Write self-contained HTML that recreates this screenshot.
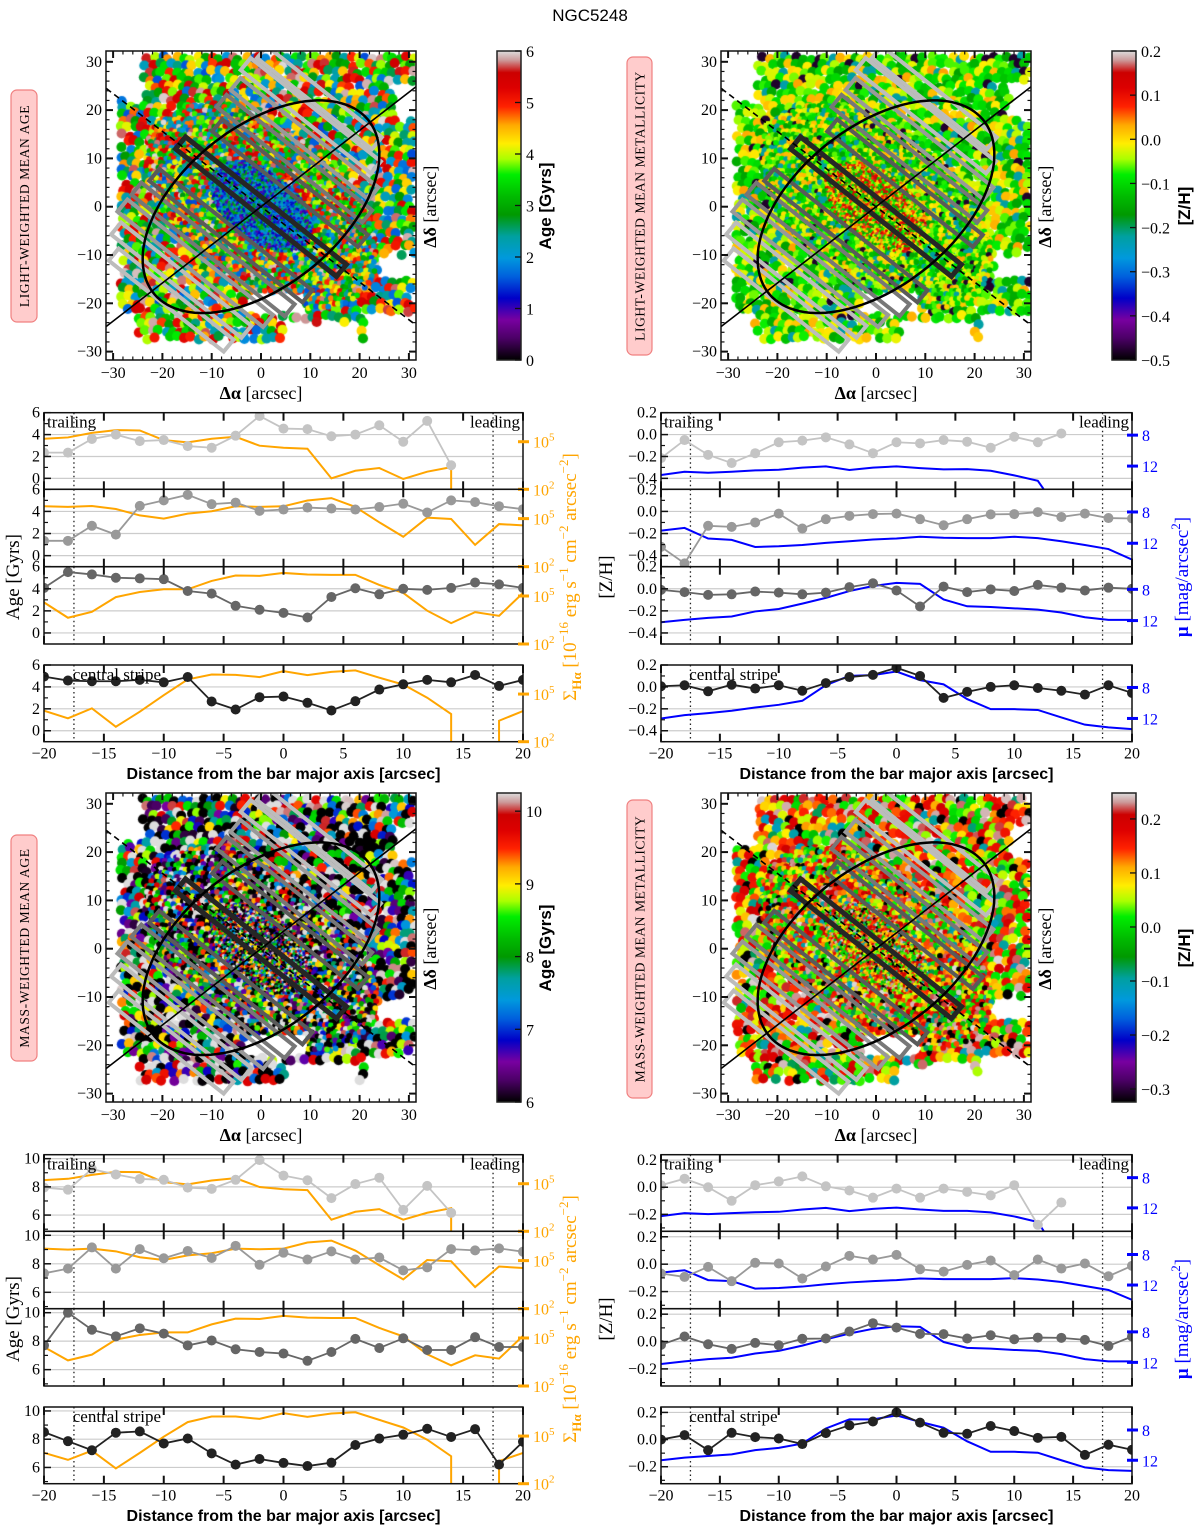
<!DOCTYPE html>
<html><head><meta charset="utf-8">
<style>
html,body{margin:0;padding:0;background:#fff;}
#wrap{position:relative;width:1200px;height:1531px;overflow:hidden;background:#fff;}
canvas{position:absolute;}
svg{position:absolute;left:0;top:0;}
</style></head>
<body>
<div id="wrap">
<canvas id="m0" width="310" height="309" style="left:106px;top:51px"></canvas>
<canvas id="m1" width="310" height="309" style="left:721px;top:51px"></canvas>
<canvas id="m2" width="310" height="309" style="left:106px;top:793px"></canvas>
<canvas id="m3" width="310" height="309" style="left:721px;top:793px"></canvas>
<svg id="fig" width="1200" height="1531" xmlns="http://www.w3.org/2000/svg">
<defs>
<linearGradient id="cmap" x1="0" y1="1" x2="0" y2="0">
<stop offset="0" stop-color="#000000"/><stop offset="0.07" stop-color="#4b0066"/><stop offset="0.13" stop-color="#7800a0"/>
<stop offset="0.2" stop-color="#0000c8"/><stop offset="0.27" stop-color="#0060dd"/><stop offset="0.33" stop-color="#0099dd"/>
<stop offset="0.4" stop-color="#00a0a0"/><stop offset="0.47" stop-color="#009900"/><stop offset="0.53" stop-color="#00bb00"/>
<stop offset="0.6" stop-color="#00ee00"/><stop offset="0.65" stop-color="#aaff00"/><stop offset="0.7" stop-color="#ffee00"/>
<stop offset="0.76" stop-color="#ffaa00"/><stop offset="0.82" stop-color="#ff2200"/><stop offset="0.88" stop-color="#dd0000"/>
<stop offset="0.93" stop-color="#cc0000"/><stop offset="0.97" stop-color="#cc9999"/><stop offset="1" stop-color="#dddddd"/>
</linearGradient>
</defs>
<text x="590" y="21" font-family="Liberation Sans, sans-serif" font-size="17" text-anchor="middle">NGC5248</text>
</svg>
</div>
<script>
// ---------------- profile data ----------------
const X = [-20,-18,-16,-14,-12,-10,-8,-6,-4,-2,0,2,4,6,8,10,12,14,16,18,20];
const X14 = [-20,-18,-16,-14,-12,-10,-8,-6,-4,-2,0,2,4,6,8,10,12,14];
const XHA1 = [-20,-18,-16,-14,-12,-10,-8,-6,-4,-2,0,2,4,6,8,10,12,14,14];
const XHA4 = [-20,-18,-16,-14,-12,-10,-8,-6,-4,-2,0,2,4,6,8,10,12,14,14,16,18,18,20];
const XMU1 = [-20,-18,-16,-14,-12,-10,-8,-6,-4,-2,0,2,4,6,8,10,12,12.6];

const ageL1 = [2.35,2.35,3.6,4.0,3.4,3.5,2.95,2.8,3.9,5.7,4.55,4.5,3.85,4.0,4.85,3.35,5.25,1.2];
const haL1 = [5.19,5.27,5.56,5.73,5.71,5.10,4.96,5.19,5.31,4.75,4.62,4.56,2.69,3.17,3.34,2.65,3.11,3.40,2];
const ageL2 = [1.34,1.34,2.7,1.9,4.5,5.0,5.5,4.66,4.8,4.05,4.17,4.35,4.26,4.17,4.4,4.7,3.9,5.0,4.84,4.47,4.2];
const haL2 = [5.77,5.73,5.79,5.6,5.2,5.0,5.31,5.46,5.77,5.73,5.77,6.13,6.28,5.73,4.77,3.87,5.06,4.98,3.36,4.66,4.58];
const ageL3 = [4.08,5.51,5.3,5.0,4.94,4.87,3.8,3.56,2.46,2.1,1.82,1.4,3.26,4.05,3.5,4.0,3.9,4.08,4.57,4.4,4.08];
const haL3 = [4.6,3.64,4.01,4.93,5.25,5.42,5.42,5.94,6.28,6.26,6.44,6.34,6.32,6.32,5.69,5.19,4.08,3.30,3.99,3.76,5.19];
const ageL4 = [4.94,4.58,4.52,4.52,4.64,4.42,4.9,2.67,1.94,3.06,3.12,2.55,1.85,2.7,3.76,4.24,4.64,4.42,5.09,4.09,4.64];
const haL4 = [3.95,3.47,4.1,2.94,3.89,4.93,5.92,6.23,6.21,6.07,6.44,6.19,6.4,6.49,6.03,5.6,4.77,3.74,2,null,2,3.32,3.93];

const zL1 = [-0.215,-0.05,-0.185,-0.26,-0.17,-0.07,-0.055,-0.025,-0.09,-0.17,-0.07,-0.08,-0.05,-0.065,-0.12,-0.02,-0.07,0.01];
const muL1 = [13.16,12.73,12.86,12.73,12.56,12.47,12.2,12.04,12.5,12.2,12.04,12.26,12.43,12.39,12.6,13.2,13.9,15.2];
const zL2 = [-0.32,-0.47,-0.13,-0.14,-0.1,-0.02,-0.155,-0.07,-0.04,-0.024,-0.02,-0.07,-0.125,-0.07,-0.027,-0.024,-0.006,-0.05,-0.02,-0.06,-0.064];
const muL2 = [10.39,10.04,11.39,11.57,12.48,12.39,12.22,11.96,11.74,11.52,11.39,11.17,11.3,11.35,11.35,11.17,11.35,11.74,12.22,12.74,14.09];
const zL3 = [-0.01,-0.03,-0.055,-0.05,-0.025,-0.035,-0.05,-0.035,0.015,0.05,-0.015,-0.16,0.02,-0.03,-0.005,-0.02,0.035,0.01,-0.015,0.01,0.0];
const muL3 = [12.22,11.91,11.65,11.48,10.83,10.52,9.83,9.09,8.22,7.57,7.17,7.3,9.3,10.17,10.26,10.43,10.6,10.96,11.57,11.91,11.91];
const zL4 = [0.006,0.015,-0.04,0.02,-0.015,0.015,-0.035,0.035,0.09,0.11,0.175,0.1,-0.1,-0.045,0.0,0.015,-0.01,-0.035,-0.07,0.015,-0.055];
const muL4 = [12.0,11.57,11.31,11.0,10.58,10.24,9.72,7.7,6.5,6.4,5.94,7.05,7.6,9.5,10.8,10.8,10.9,11.87,12.8,13.15,13.37];

const ageM1 = [7.95,7.8,9.26,8.88,8.56,8.5,7.95,7.86,8.5,9.9,8.8,8.47,7.2,8.2,8.65,6.37,8.07,6.16];
const haM1 = [5.23,5.31,5.56,5.75,5.73,5.1,4.96,5.2,5.35,4.79,4.65,4.6,2.73,3.23,3.4,2.73,3.17,3.46,2];
const ageM2 = [7.33,7.66,9.15,7.66,9.03,8.39,8.9,8.41,9.26,7.93,8.78,8.3,8.87,8.3,8.44,7.54,7.75,9.03,8.94,9.08,8.85];
const haM2 = [5.75,5.69,5.75,5.58,5.21,5.04,5.33,5.46,5.75,5.71,5.75,6.13,6.25,5.63,4.71,3.83,5.04,4.96,3.35,4.63,4.54];
const ageM3 = [7.7,10.0,8.8,8.34,8.9,8.53,7.7,8.05,7.43,7.24,7.13,6.62,7.24,8.16,7.52,8.2,7.38,7.38,8.28,7.59,7.59];
const haM3 = [4.44,3.6,3.96,4.9,5.19,5.35,5.35,5.85,6.21,6.19,6.38,6.27,6.25,6.25,5.63,5.1,3.98,3.29,3.92,3.71,5.13];
const ageM4 = [8.5,7.86,7.22,8.46,8.55,7.7,8.05,7.0,6.2,6.6,6.32,6.1,6.34,7.59,8.05,8.32,8.74,8.16,8.71,6.2,7.82];
const haM4 = [3.94,3.5,4.08,2.96,3.94,4.96,5.88,6.23,6.23,6.08,6.44,6.21,6.42,6.5,6.02,5.54,4.77,3.73,2,null,2,3.42,3.94];

const zM1 = [0.015,0.063,0.0,-0.1,0.015,0.043,0.08,0.007,-0.024,-0.077,-0.01,-0.077,-0.01,-0.034,-0.06,0.015,-0.277,-0.113];
const muM1 = [13.09,12.7,12.83,12.7,12.57,12.52,12.22,12.0,12.43,12.13,11.96,12.22,12.39,12.39,12.6,13.13,13.87,15.3];
const zM2 = [-0.068,-0.093,-0.02,-0.124,0.01,0.005,-0.105,-0.017,0.061,0.034,0.068,-0.037,-0.054,-0.005,0.027,-0.08,0.034,-0.032,0.005,-0.088,-0.012];
const muM2 = [10.37,10.06,11.35,11.48,12.47,12.39,12.2,11.9,11.66,11.48,11.35,11.14,11.22,11.22,11.22,11.1,11.27,11.6,12.13,12.65,13.94];
const zM3 = [-0.024,0.037,-0.02,-0.054,-0.01,-0.027,0.02,0.022,0.073,0.134,0.102,0.056,0.054,0.022,0.046,0.017,0.029,0.027,0.012,-0.032,0.037];
const muM3 = [12.21,11.87,11.57,11.4,10.84,10.49,9.8,8.99,8.21,7.6,7.27,7.35,9.33,10.1,10.2,10.37,10.5,10.92,11.57,11.87,11.87];
const zM4 = [0.0,0.033,-0.078,0.05,0.018,0.008,-0.033,0.048,0.105,0.133,0.2,0.125,0.05,0.043,0.1,0.063,0.013,0.02,-0.113,-0.038,-0.075];
const muM4 = [12.0,11.66,11.44,11.22,10.66,10.37,9.8,7.8,6.6,6.6,6.07,6.93,7.7,9.5,10.88,10.88,11.0,12.0,12.95,13.3,13.4];

const PT_COLORS = ['#c4c4c4','#999999','#666666','#222222'];
const SERIF = "Liberation Serif, serif";
const SANS = "Liberation Sans, sans-serif";
const NS = 'http://www.w3.org/2000/svg';
const svg = document.getElementById('fig');

function el(tag, attrs, parent, text){
  const e = document.createElementNS(NS, tag);
  for (const k in attrs) e.setAttribute(k, attrs[k]);
  if (text !== undefined) e.textContent = text;
  (parent||svg).appendChild(e);
  return e;
}
function fmt(v, dec){ const s = v.toFixed(dec); return s.replace('-', '\u2212'); }
function pathFrom(xs, ys, fx, fy){
  let d = '', pen = false;
  for (let i=0;i<xs.length;i++){
    if (ys[i]===null || ys[i]===undefined){ pen=false; continue; }
    d += (pen?'L':'M') + fx(xs[i]).toFixed(2) + ' ' + fy(ys[i]).toFixed(2) + ' ';
    pen = true;
  }
  return d;
}
let clipId = 0;

function panel(o){
  const g = el('g', {});
  
  
  const {x0,x1,y0,y1} = o;
  const fx = v => x0 + (v+20)/40*(x1-x0);
  const fl = v => y1 - (v-o.lmin)/(o.lmax-o.lmin)*(y1-y0);
  const fr = v => y0 + (v-o.rTop)/(o.rBot-o.rTop)*(y1-y0);
  const cid = 'pc'+(clipId++);
  const cp = el('clipPath', {id:cid}, g);
  el('rect', {x:x0, y:y0, width:x1-x0, height:y1-y0}, cp);
  o.grid.forEach(v => { const gl = el('line', {x1:x0, x2:x1, y1:fl(v), y2:fl(v), stroke:'#cccccc', 'stroke-width':1.2}, g);
      });
  [-17.5, 17.5].forEach(v => { const dl = el('line', {x1:fx(v), x2:fx(v), y1:y0, y2:y1, stroke:'#222', 'stroke-width':1.3, 'stroke-dasharray':'1.5,3'}, g);
      });
  const rl = el('path', {d:pathFrom(o.rx, o.ry, fx, fr), fill:'none', stroke:o.rcolor, 'stroke-width':2, 'clip-path':'url(#'+cid+')'}, g);
   
  const ll = el('path', {d:pathFrom(o.lx, o.ly, fx, fl), fill:'none', stroke:o.pc, 'stroke-width':1.8, 'clip-path':'url(#'+cid+')'}, g);
   
  o.lx.forEach((xv,i) => {
    const c = el('circle', {cx:fx(xv), cy:fl(o.ly[i]), r:5, fill:o.pc, 'clip-path':'url(#'+cid+')'}, g);
     
  });
  const fr_ = el('rect', {x:x0, y:y0, width:x1-x0, height:y1-y0, fill:'none', stroke:'#111', 'stroke-width':1.5}, g);
   
  for (let v=-20; v<=20; v+=5){
    el('line', {x1:fx(v), x2:fx(v), y1:y0, y2:y0+8, stroke:'#111', 'stroke-width':2}, g);
    el('line', {x1:fx(v), x2:fx(v), y1:y1, y2:y1-8, stroke:'#111', 'stroke-width':2}, g);
    if (o.xlabels){
      const t = el('text', {x:fx(v), y:y1+17, 'font-family':SERIF, 'font-size':16, 'text-anchor':'middle'}, g, fmt(v,0));
       
    }
  }
  o.lticks.forEach(v => {
    el('line', {x1:x0, x2:x0+7, y1:fl(v), y2:fl(v), stroke:'#111', 'stroke-width':1.5}, g);
    const t = el('text', {x:x0-4, y:fl(v)+5, 'font-family':SERIF, 'font-size':16, 'text-anchor':'end'}, g, fmt(v,o.ldec));
     
  });
  o.lminor.forEach(v => { if (fl(v)>=y0-0.5 && fl(v)<=y1+0.5) el('line', {x1:x0, x2:x0+4, y1:fl(v), y2:fl(v), stroke:'#111', 'stroke-width':1.2}, g); });
  o.rticks.forEach(t => {
    el('line', {x1:x1-5, x2:x1+6, y1:fr(t.v), y2:fr(t.v), stroke:o.rcolor, 'stroke-width':3}, g);
    const tx = el('text', {x:x1+10, y:fr(t.v)+6, 'font-family':SERIF, 'font-size':16, fill:o.rcolor}, g);
     
    if (t.sup){ el('tspan', {}, tx, '10'); el('tspan', {dy:-7, 'font-size':11}, tx, t.sup); }
    else tx.textContent = t.label;
  });
  (o.texts||[]).forEach(t => {
    const tx = el('text', {x:t.x, y:y0+15, 'font-family':SERIF, 'font-size':17, 'text-anchor':t.anchor||'start'}, g, t.s);
     
  });
}

const TOP_Y = [[412.7,489.3],[489.3,566.7],[566.7,644],[665,741.7]];
const LX = [44,523], RX = [661,1132];
const ageLeft = [ageL1,ageL2,ageL3,ageL4], haLeft=[haL1,haL2,haL3,haL4];
const zLeft = [zL1,zL2,zL3,zL4], muLeft=[muL1,muL2,muL3,muL4];
const ageMass = [ageM1,ageM2,ageM3,ageM4], haMass=[haM1,haM2,haM3,haM4];
const zMass = [zM1,zM2,zM3,zM4], muMass=[muM1,muM2,muM3,muM4];
const haX = [XHA1, X, X, XHA4];
const ptX = [X14, X, X, X];
const muX = [XMU1, X, X, X];

function textsFor(i, x0, x1){
  const fx = v => x0 + (v+20)/40*(x1-x0);
  if (i===0) return [{x:x0+3,s:'trailing',name:'trailing-label'},{x:x1-3,s:'leading',anchor:'end',name:'leading-label'}];
  if (i===3) return [{x:fx(-17.6),s:'central stripe',name:'central-stripe-label'}];
  return [];
}

for (let half=0; half<2; half++){
  const dy = half*742;
  for (let i=0;i<4;i++){
    const [y0,y1] = TOP_Y[i];
    panel({name:(half?'mass':'light')+'-age-profile-'+(i+1), x0:LX[0], x1:LX[1], y0:y0+dy, y1:y1+dy,
      lmin: half?4.85:-1, lmax: half?10.28:6,
      lticks: half?[6,8,10]:[0,2,4,6], lminor: half?[5,7,9]:[1,3,5], ldec:0,
      grid: half?[6,8,10]:[0,2,4],
      rTop:6.83, rBot:2, rcolor:'#ffa500', rname:'halpha-line',
      rticks:[{v:2,sup:'2'},{v:5,sup:'5'}],
      rx: haX[i], ry: (half?haMass:haLeft)[i],
      lx: ptX[i], ly: (half?ageMass:ageLeft)[i], lname:'age', pc:PT_COLORS[i],
      xlabels: i===3, texts: textsFor(i, LX[0], LX[1])});
    panel({name:(half?'mass':'light')+'-metallicity-profile-'+(i+1), x0:RX[0], x1:RX[1], y0:y0+dy, y1:y1+dy,
      lmin: half?-0.325:-0.5, lmax: half?0.24:0.2,
      lticks: half?[-0.2,0,0.2]:[-0.4,-0.2,0,0.2], lminor: half?[-0.3,-0.1,0.1]:[-0.5,-0.3,-0.1,0.1], ldec:1,
      grid: half?[-0.2,0,0.2]:[-0.4,-0.2,0],
      rTop: half?4.96:5.1, rBot: half?15.1:15.0, rcolor:'#0000ff', rname:'surface-brightness-line',
      rticks:[{v:8,label:'8'},{v:12,label:'12'}],
      rx: muX[i], ry: (half?muMass:muLeft)[i],
      lx: ptX[i], ly: (half?zMass:zLeft)[i], lname:'metallicity', pc:PT_COLORS[i],
      xlabels: i===3, texts: textsFor(i, RX[0], RX[1])});
  }
  let t;
  t = el('text', {x:(LX[0]+LX[1])/2, y:779+dy, 'font-family':SANS, 'font-size':16, 'font-weight':'bold', 'text-anchor':'middle'}, svg, 'Distance from the bar major axis [arcsec]');
   
  t = el('text', {x:(RX[0]+RX[1])/2, y:779+dy, 'font-family':SANS, 'font-size':16, 'font-weight':'bold', 'text-anchor':'middle'}, svg, 'Distance from the bar major axis [arcsec]');
   
  t = el('text', {transform:'translate(19,'+(577+dy)+') rotate(-90)', 'font-family':SERIF, 'font-size':19, 'text-anchor':'middle'}, svg, 'Age [Gyrs]');
   
  t = el('text', {transform:'translate(612,'+(577+dy)+') rotate(-90)', 'font-family':SERIF, 'font-size':19, 'text-anchor':'middle'}, svg, '[Z/H]');
   
  t = el('text', {transform:'translate(576,'+(577+dy)+') rotate(-90)', 'font-family':SERIF, 'font-size':19, 'text-anchor':'middle', fill:'#ffa500'}, svg);
   
  el('tspan',{},t,'\u03a3');el('tspan',{dy:5,'font-size':13,'font-weight':'bold'},t,'H\u03b1');
  el('tspan',{dy:-5},t,' [10');el('tspan',{dy:-8,'font-size':13},t,'\u221216');el('tspan',{dy:8},t,' erg s');
  el('tspan',{dy:-8,'font-size':13},t,'\u22121');el('tspan',{dy:8},t,' cm');el('tspan',{dy:-8,'font-size':13},t,'\u22122');
  el('tspan',{dy:8},t,' arcsec');el('tspan',{dy:-8,'font-size':13},t,'\u22122');el('tspan',{dy:8},t,']');
  t = el('text', {transform:'translate(1188,'+(577+dy)+') rotate(-90)', 'font-family':SERIF, 'font-size':19, 'text-anchor':'middle', fill:'#0000ff'}, svg);
   
  el('tspan',{'font-weight':'bold'},t,'\u03bc');el('tspan',{},t,' [mag/arcsec');el('tspan',{dy:-8,'font-size':13},t,'2');el('tspan',{dy:8},t,']');
}

// ---------------- maps ----------------
const MAPS = [
  {fx:106, fy:51, cbx:497, cmin:0, cmax:6, ticks:[0,1,2,3,4,5,6], dec:0, cbl:'Age [Gyrs]', cbo:54, lab:'LIGHT-WEIGHTED MEAN AGE', box:[11,90,26,232], name:'light-age'},
  {fx:721, fy:51, cbx:1112, cmin:-0.5, cmax:0.2, ticks:[-0.5,-0.4,-0.3,-0.2,-0.1,0,0.1,0.2], dec:1, cbl:'[Z/H]', cbo:78, lab:'LIGHT-WEIGHTED MEAN METALLICITY', box:[627,57,25,298], name:'light-metallicity'},
  {fx:106, fy:793, cbx:497, cmin:6, cmax:10.25, ticks:[6,7,8,9,10], dec:0, cbl:'Age [Gyrs]', cbo:54, lab:'MASS-WEIGHTED MEAN AGE', box:[11,835,26,226], name:'mass-age'},
  {fx:721, fy:793, cbx:1112, cmin:-0.324, cmax:0.248, ticks:[-0.3,-0.2,-0.1,0,0.1,0.2], dec:1, cbl:'[Z/H]', cbo:78, lab:'MASS-WEIGHTED MEAN METALLICITY', box:[627,800,25,298], name:'mass-metallicity'}
];
const SX = 4.93, SY = 4.83, CXL = 155, CYL = 155.7;
const STOPS = [[0,'#000000'],[0.07,'#4b0066'],[0.13,'#7800a0'],[0.2,'#0000c8'],[0.27,'#0060dd'],[0.33,'#0099dd'],[0.4,'#00a0a0'],[0.47,'#009900'],[0.53,'#00bb00'],[0.6,'#00ee00'],[0.65,'#aaff00'],[0.7,'#ffee00'],[0.76,'#ffaa00'],[0.82,'#ff2200'],[0.88,'#dd0000'],[0.93,'#cc0000'],[0.97,'#cc9999'],[1,'#dddddd']];
function hex(h){return [parseInt(h.slice(1,3),16),parseInt(h.slice(3,5),16),parseInt(h.slice(5,7),16)];}
function cmap(v){
  v=Math.max(0,Math.min(1,v));
  for(let i=1;i<STOPS.length;i++){ if(v<=STOPS[i][0]){ const a=hex(STOPS[i-1][1]), b=hex(STOPS[i][1]); const t=(v-STOPS[i-1][0])/(STOPS[i][0]-STOPS[i-1][0]);
    return 'rgb('+[0,1,2].map(k=>Math.round(a[k]+(b[k]-a[k])*t)).join(',')+')'; } }
  return STOPS[STOPS.length-1][1];
}
// deterministic texture hash for the map image (not chart data)
function tex(i,j,k){
  let h = (Math.imul(i,374761393) + Math.imul(j,668265263) + Math.imul(k,2246822519)) | 0;
  h = Math.imul(h ^ (h>>>13), 1274126177);
  h ^= h>>>16;
  h = Math.imul(h ^ (h>>>15), 2246822507);
  h ^= h>>>13;
  return (h>>>0)/4294967296;
}
function masked(x,y){
  if (y<-27.5 || y>31.5 || x<-28.5 || x>31.3) return true;
  if (x<-24 && y>22) return true;
  if (y<-22 && (x>21 || x<-25)) return true;
  if (x>-3 && x<9 && y<-17.5 && y>-22.5) return true;
  if (x>24 && y<-10 && y>-15) return true;
  if (x>27 && y>18 && y<26) return true;
  if (y<-24 && x>5 && x<20) return true;
  return false;
}
const UX=0.777, UY=-0.629, NX=0.629, NY=0.777;
function colorVal(kind, h, rb){
  if (kind===0){ if (rb<7) return 0.12+0.4*h; return 0.25+0.75*h; }
  if (kind===1){ if (rb<7) return 0.45+0.5*h; if (h<0.04) return 0.03; if (h>0.9) return 0.3+h*0.1; return 0.47+0.33*h; }
  if (kind===2){ if (h<0.22) return 0; if (h>0.88) return 1; return (h-0.22)/0.66; }
  if (h<0.06) return 0; if (h<0.15) return 0.3+h; return 0.45+0.55*h;
}
MAPS.forEach((m,k) => {
  const ctx = document.getElementById('m'+k).getContext('2d');
  [[7,99],[4,16],[2.2,7]].forEach(([s,rmax],pass) => {
    let row=0;
    for (let py=-s; py<309+s; py+=s, row++){
      let col=0;
      for (let px=(row%2)*s/2 - s; px<310+s; px+=s, col++){
        const jx=(tex(col,row,k*11+pass+50)-0.5)*s*0.6, jy=(tex(col,row,k*11+pass+90)-0.5)*s*0.6;
        const cxp=px+jx, cyp=py+jy;
        const x=(cxp-CXL)/SX, y=(CYL-cyp)/SY;
        const along=x*UX+y*UY, perp=x*NX+y*NY;
        const rb=Math.sqrt((along/1.7)*(along/1.7)+perp*perp);
        if (rb>rmax || masked(x,y)) continue;
        const h=tex(col,row,k*7+pass);
        ctx.fillStyle=cmap(colorVal(k,h,rb));
        ctx.beginPath();
        ctx.arc(cxp,cyp,s*0.72,0,Math.PI*2);
        ctx.fill();
      }
    }
  });
  const g = el('g', {});
   
  const cid='mc'+k; const cp=el('clipPath',{id:cid},g);
  el('rect',{x:m.fx,y:m.fy,width:310,height:309},cp);
  const ox=m.fx+CXL, oy=m.fy+CYL;
  const P=(x,y)=>[ox+x*SX, oy-y*SY];
  const STRIPES=[[25,-5,30,'#bcbcbc'],[-26.5,-2,30,'#bcbcbc'],[21,-4,34,'#bcbcbc'],[-22,-3,34,'#bcbcbc'],[16.5,-2,36,'#999'],[-17.5,-3,38,'#999'],[12,-1,38,'#777'],[-13,-2,40,'#777'],[7.5,1.5,38,'#5a5a5a'],[-8.5,-1,40,'#5a5a5a'],[0,0,42,'#262626']];
  STRIPES.forEach(([d,s,L,c]) => {
    const w=3.2, pts=[];
    [[-1,-1],[1,-1],[1,1],[-1,1]].forEach(([a,b]) => { const cx=d*NX+s*UX+a*L/2*UX+b*w/2*NX, cy=d*NY+s*UY+a*L/2*UY+b*w/2*NY; pts.push(P(cx,cy).join(',')); });
    const r=el('polygon',{points:pts.join(' '),fill:'none',stroke:c,'stroke-width':d===0?5:4,'stroke-linejoin':'miter','clip-path':'url(#'+cid+')'},g);
     
  });
  let d='';
  for (let i=0;i<=120;i++){ const t=i/120*2*Math.PI, ex=28.2*Math.cos(t), ey=16.3*Math.sin(t), c=Math.cos(40*Math.PI/180), sn=Math.sin(40*Math.PI/180);
    const q=P(ex*c-ey*sn, ex*sn+ey*c); d+=(i?'L':'M')+q[0].toFixed(1)+' '+q[1].toFixed(1); }
  const e=el('path',{d:d+'Z',fill:'none',stroke:'#000','stroke-width':2.5,'clip-path':'url(#'+cid+')'},g);
   
  let a=P(-33,-33*0.79), b=P(33,33*0.79);
  const l1=el('line',{x1:a[0],y1:a[1],x2:b[0],y2:b[1],stroke:'#000','stroke-width':1.6,'clip-path':'url(#'+cid+')'},g);
   
  a=P(-33,33*0.78); b=P(33,-33*0.78);
  const l2=el('line',{x1:a[0],y1:a[1],x2:b[0],y2:b[1],stroke:'#000','stroke-width':1.6,'stroke-dasharray':'6,4','clip-path':'url(#'+cid+')'},g);
   
  const fr=el('rect',{x:m.fx,y:m.fy,width:310,height:309,fill:'none',stroke:'#111','stroke-width':1.5},g);
   
  for (let v=-30; v<=30; v+=2){
    const big=v%10===0, len=big?7:3.5;
    const xx=ox+v*SX, yy=oy-v*SY;
    el('line',{x1:xx,x2:xx,y1:m.fy,y2:m.fy+len,stroke:'#111','stroke-width':big?2:1.2},g);
    el('line',{x1:xx,x2:xx,y1:m.fy+309,y2:m.fy+309-len,stroke:'#111','stroke-width':big?2:1.2},g);
    el('line',{y1:yy,y2:yy,x1:m.fx,x2:m.fx+len,stroke:'#111','stroke-width':big?2:1.2},g);
    el('line',{y1:yy,y2:yy,x1:m.fx+310,x2:m.fx+310-len,stroke:'#111','stroke-width':big?2:1.2},g);
    if (big){
      let t=el('text',{x:xx,y:m.fy+327,'font-family':SERIF,'font-size':16,'text-anchor':'middle'},g,fmt(v,0));
       
      t=el('text',{x:m.fx-4,y:yy+5,'font-family':SERIF,'font-size':16,'text-anchor':'end'},g,fmt(v,0));
       
    }
  }
  let t=el('text',{x:ox,y:m.fy+348,'font-family':SERIF,'font-size':18,'text-anchor':'middle'},g);
   
  el('tspan',{'font-weight':'bold'},t,'\u0394\u03b1');el('tspan',{},t,' [arcsec]');
  t=el('text',{transform:'translate('+(m.fx+330)+','+oy+') rotate(-90)','font-family':SERIF,'font-size':18,'text-anchor':'middle'},g);
   
  el('tspan',{'font-weight':'bold'},t,'\u0394\u03b4');el('tspan',{},t,' [arcsec]');
  const cb=el('rect',{x:m.cbx,y:m.fy,width:24,height:309,fill:'url(#cmap)',stroke:'#222','stroke-width':1.5},g);
   
  m.ticks.forEach(v => {
    const yy=m.fy+309-(v-m.cmin)/(m.cmax-m.cmin)*309;
    el('line',{x1:m.cbx+24,x2:m.cbx+18,y1:yy,y2:yy,stroke:'#111','stroke-width':1.3},g);
    const tt=el('text',{x:m.cbx+29,y:yy+6,'font-family':SERIF,'font-size':16},g,fmt(v,m.dec));
     
  });
  t=el('text',{transform:'translate('+(m.cbx+m.cbo)+','+(m.fy+155)+') rotate(-90)','font-family':SANS,'font-size':17,'font-weight':'bold','text-anchor':'middle'},g,m.cbl);
   
  const bx=el('rect',{x:m.box[0],y:m.box[1],width:m.box[2],height:m.box[3],rx:6,fill:'#ffcccc',stroke:'#f08080','stroke-width':1.2},g);
   
  t=el('text',{transform:'translate('+(m.box[0]+m.box[2]/2+5)+','+(m.box[1]+m.box[3]/2)+') rotate(-90)','font-family':SERIF,'font-size':13.5,'text-anchor':'middle','letter-spacing':'0.6'},g,m.lab);
   
});
</script>
</body></html>
